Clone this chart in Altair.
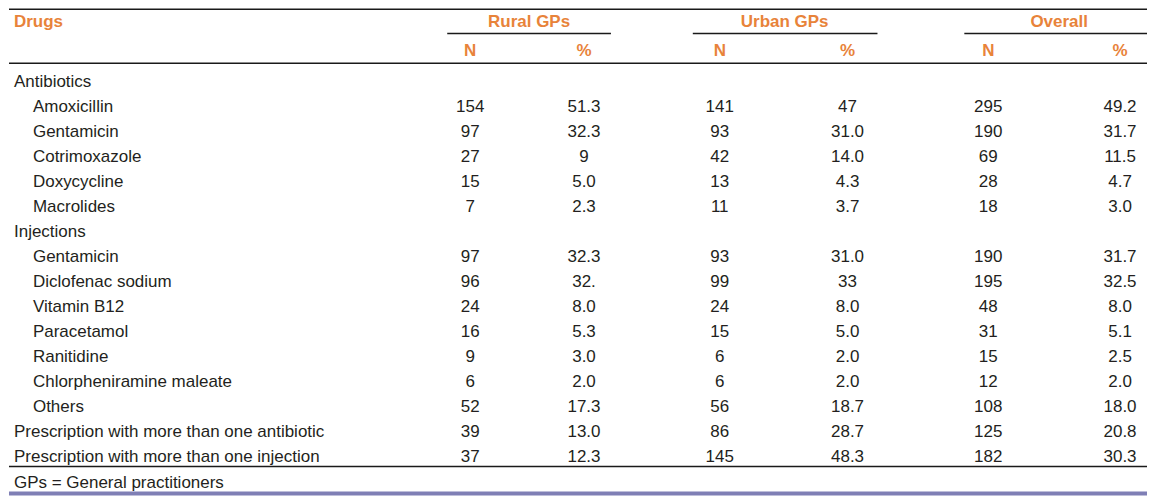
import altair as alt
import pandas as pd

# ---------------- data ----------------
labels = ["Antibiotics", "Amoxicillin", "Gentamicin", "Cotrimoxazole", "Doxycycline",
          "Macrolides", "Injections", "Gentamicin", "Diclofenac sodium", "Vitamin B12",
          "Paracetamol", "Ranitidine", "Chlorpheniramine maleate", "Others",
          "Prescription with more than one antibiotic",
          "Prescription with more than one injection"]
indent = [0, 1, 1, 1, 1, 1, 0, 1, 1, 1, 1, 1, 1, 1, 0, 0]
rural_n = [None, "154", "97", "27", "15", "7", None, "97", "96", "24", "16", "9", "6", "52", "39", "37"]
rural_pct = [None, "51.3", "32.3", "9", "5.0", "2.3", None, "32.3", "32.", "8.0", "5.3", "3.0", "2.0", "17.3", "13.0", "12.3"]
urban_n = [None, "141", "93", "42", "13", "11", None, "93", "99", "24", "15", "6", "6", "56", "86", "145"]
urban_pct = [None, "47", "31.0", "14.0", "4.3", "3.7", None, "31.0", "33", "8.0", "5.0", "2.0", "2.0", "18.7", "28.7", "48.3"]
overall_n = [None, "295", "190", "69", "28", "18", None, "190", "195", "48", "31", "15", "12", "108", "125", "182"]
overall_pct = [None, "49.2", "31.7", "11.5", "4.7", "3.0", None, "31.7", "32.5", "8.0", "5.1", "2.5", "2.0", "18.0", "20.8", "30.3"]
groups = ["Rural GPs", "Urban GPs", "Overall"]
subheads = ["N", "%", "N", "%", "N", "%"]
header_first = "Drugs"
footnote = "GPs = General practitioners"

# ---------------- layout ----------------
W, H = 1140, 488
OFF = 8  # page margin
col_centers = [470, 584, 720, 848, 989, 1121]
group_centers = [529, 785, 1060]
group_lines = [(447, 611), (693, 878), (965, 1156)]
label_x = [13, 32]
row0, step = 87, 25
y_group, y_sub, y_foot = 27, 56, 488
FONT = "Liberation Sans"
ORANGE = "#E8833A"
INK = "#231f20"

xs = alt.Scale(domain=[0, W], range=[0, W], zero=False, nice=False)
ys = alt.Scale(domain=[0, H], range=[0, H], zero=False, nice=False)

# body cells
left_cells, center_cells = [], []
num_cols = [rural_n, rural_pct, urban_n, urban_pct, overall_n, overall_pct]
for i, lab in enumerate(labels):
    y = row0 + step * i - OFF
    left_cells.append({"x": label_x[indent[i]] - OFF, "y": y, "t": lab})
    for c, col in enumerate(num_cols):
        if col[i] is not None:
            center_cells.append({"x": col_centers[c] - OFF, "y": y, "t": col[i]})
left_cells.append({"x": label_x[0] - OFF, "y": y_foot - OFF, "t": footnote})

head_left = [{"x": label_x[0] - OFF, "y": y_group - OFF, "t": header_first}]
head_center = []
for g, cx in zip(groups, group_centers):
    head_center.append({"x": cx - OFF, "y": y_group - OFF, "t": g})
for s, cx in zip(subheads, col_centers):
    head_center.append({"x": cx - OFF, "y": y_sub - OFF, "t": s})

lines = [{"x": 0, "x2": W, "y": 0.8},
         {"x": 0, "x2": W, "y": 63 - OFF},
         {"x": 0, "x2": W, "y": 467 - OFF}]
for a, b in group_lines:
    lines.append({"x": a - OFF, "x2": min(b - OFF, W), "y": 33 - OFF})
rules = pd.DataFrame(lines)

band = pd.DataFrame([{"x": 0, "x2": W, "y": H - 4, "y2": H}])


def text_layer(rows, align, bold):
    kw = dict(font=FONT, fontSize=17, baseline="alphabetic", align=align)
    if bold:
        kw.update(fontWeight="bold", color=ORANGE)
    else:
        kw.update(color=INK)
    return alt.Chart(pd.DataFrame(rows)).mark_text(**kw).encode(
        x=alt.X("x:Q", scale=xs, axis=None),
        y=alt.Y("y:Q", scale=ys, axis=None),
        text="t:N",
    )


rule_layer = alt.Chart(rules).mark_rule(color="#1a1a1a", strokeWidth=1.5).encode(
    x=alt.X("x:Q", scale=xs, axis=None),
    x2="x2:Q",
    y=alt.Y("y:Q", scale=ys, axis=None),
)
band_layer = alt.Chart(band).mark_rect(color="#7F7FB5").encode(
    x=alt.X("x:Q", scale=xs, axis=None),
    x2="x2:Q",
    y=alt.Y("y:Q", scale=ys, axis=None),
    y2="y2:Q",
)

chart = alt.layer(
    band_layer, rule_layer,
    text_layer(head_left, "left", True), text_layer(head_center, "center", True),
    text_layer(left_cells, "left", False), text_layer(center_cells, "center", False),
).properties(
    width=W, height=H, padding=0, background="white"
).configure_view(strokeWidth=0)

chart.save("out.html", embed_options={"renderer": "svg", "actions": False})
